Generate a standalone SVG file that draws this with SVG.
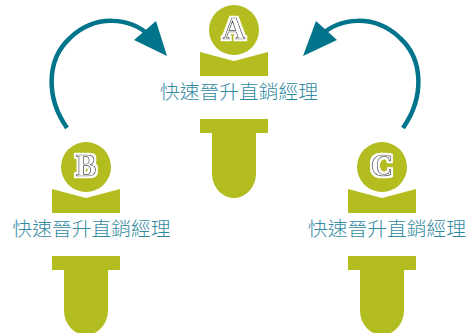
<svg xmlns="http://www.w3.org/2000/svg" width="468" height="333" viewBox="0 0 468 333">
<style>
.body{fill:#b3bd1f}
.lab{font-family:"Noto Sans CJK TC","Noto Sans CJK SC",sans-serif;font-size:19.800px;font-weight:300;fill:#328a9f;text-anchor:middle}
.ltr{font-family:"Liberation Serif",serif;font-size:31px;font-weight:bold;fill:#fff;stroke:#3c3c3c;stroke-width:.7;text-anchor:middle;filter:url(#halo)}
.arc{fill:none;stroke:#00748a;stroke-width:4.5}
.head{fill:#00748a}
</style>
<defs>
<filter id="halo" x="-40%" y="-40%" width="180%" height="180%">
<feMorphology in="SourceAlpha" operator="dilate" radius="2.200" result="d"/>
<feFlood flood-color="#fff"/>
<feComposite in2="d" operator="in" result="w"/>
<feMerge><feMergeNode in="w"/><feMergeNode in="SourceGraphic"/></feMerge>
</filter>
<g id="fig">
<circle cx="0" cy="0" r="25" class="body"/>
<path class="body" d="M-34,22 L0,31 L34,22 V46 H-34 Z"/>
<path class="body" d="M-34,89 H34 V103 H22 V143 C22,158 11,168 0,168 C-11,168 -22,158 -22,143 V103 H-34 Z"/>
</g>
</defs>
<g id="connectors">
<path class="arc" d="M67,128 C46,98 46,60 70,38 C95,14 130,17 150,36"/>
<polygon class="head" points="167,56 156,21 134,40"/>
<path class="arc" d="M403,128 C424,98 424,60 400,38 C375,14 340,17 320,36"/>
<polygon class="head" points="303,56 316,21 337,40"/>
</g>
<g id="node-a">
<use href="#fig" x="234" y="30"/>
<text class="ltr" x="234" y="39">A</text>
<text class="lab" x="239" y="99">快速晉升直銷經理</text>
</g>
<g id="node-b">
<use href="#fig" x="86" y="167"/>
<text class="ltr" x="86" y="176">B</text>
<text class="lab" x="91.500" y="236">快速晉升直銷經理</text>
</g>
<g id="node-c">
<use href="#fig" x="382" y="167"/>
<text class="ltr" x="382" y="176">C</text>
<text class="lab" x="387" y="236">快速晉升直銷經理</text>
</g>
</svg>
